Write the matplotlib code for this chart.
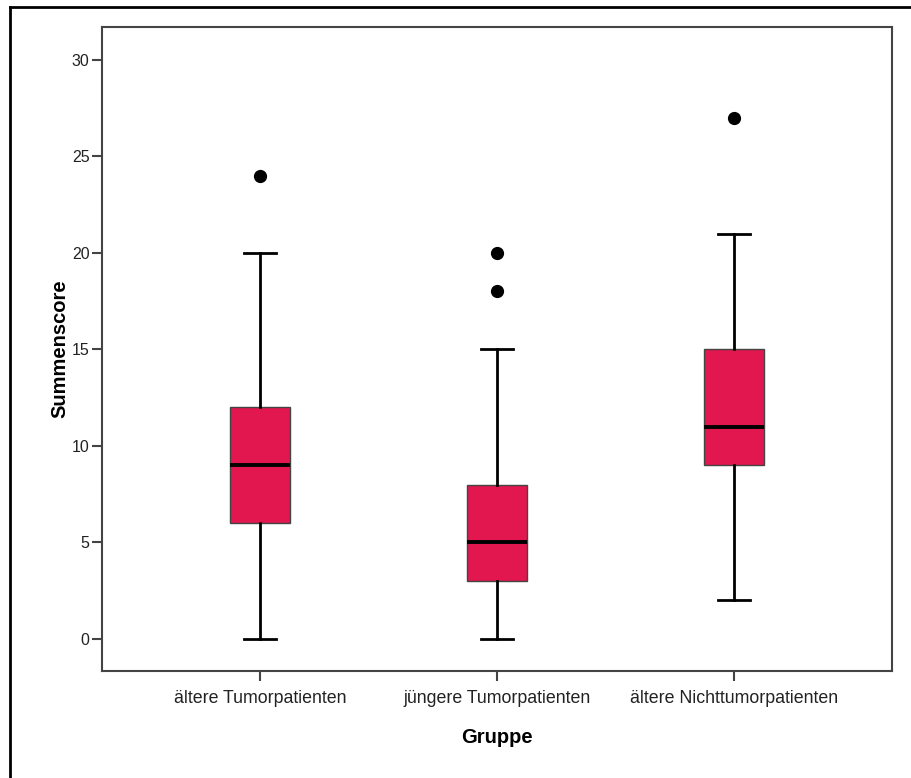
import matplotlib
matplotlib.use("Agg")
import matplotlib.pyplot as plt
from matplotlib.lines import Line2D

plt.rcParams["font.family"] = ["Liberation Sans", "DejaVu Sans"]

# Box statistics
groups = ["ältere Tumorpatienten", "jüngere Tumorpatienten", "ältere Nichttumorpatienten"]
whisker_low = [0, 0, 2]
q1 = [6, 3, 9]
median = [9, 5, 11]
q3 = [12, 8, 15]
whisker_high = [20, 15, 21]
outliers = [[24], [18, 20], [27]]

stats = []
for i, name in enumerate(groups):
    stats.append({
        "label": name,
        "whislo": whisker_low[i],
        "q1": q1[i],
        "med": median[i],
        "q3": q3[i],
        "whishi": whisker_high[i],
        "fliers": outliers[i],
    })

fig = plt.figure(figsize=(9.12, 7.78), dpi=100)
ax = fig.add_axes([102 / 912, 1 - 671 / 778, (892 - 102) / 912, (671 - 27) / 778])

box_color = "#E3174F"
ax.bxp(stats, positions=[1, 2, 3], widths=0.253, capwidths=0.135,
       patch_artist=True, showfliers=True,
       boxprops=dict(facecolor=box_color, edgecolor="#444444", linewidth=1.0),
       medianprops=dict(color="black", linewidth=2.8),
       whiskerprops=dict(color="black", linewidth=2.0),
       capprops=dict(color="black", linewidth=2.0),
       flierprops=dict(marker="o", markerfacecolor="black", markeredgecolor="black",
                       markersize=8.5))

ax.set_xlim(0.333, 3.667)
ax.set_ylim(-1.66, 31.7)
ax.set_yticks([0, 5, 10, 15, 20, 25, 30])
ax.set_xticks([1, 2, 3])
ax.set_xticklabels(groups)

for sp in ax.spines.values():
    sp.set_color("#444444")
    sp.set_linewidth(1.5)
ax.tick_params(axis="both", colors="#444444", labelcolor="#222222",
               length=7, width=1.5, direction="out")
ax.tick_params(axis="y", labelsize=11.5, pad=2)
ax.tick_params(axis="x", labelsize=12.8, pad=7)

ax.set_ylabel("Summenscore", fontsize=14.5, fontweight="bold", labelpad=2)
ax.set_xlabel("Gruppe", fontsize=14.5, fontweight="bold", labelpad=15)

# outer frame: only left and top edges are visible
fig.add_artist(Line2D([10 / 912, 10 / 912], [0, 1 - 7 / 778], transform=fig.transFigure,
                      color="black", linewidth=2))
fig.add_artist(Line2D([10 / 912, 1], [1 - 7 / 778, 1 - 7 / 778], transform=fig.transFigure,
                      color="black", linewidth=2))

fig.savefig("out.png", dpi=100)
